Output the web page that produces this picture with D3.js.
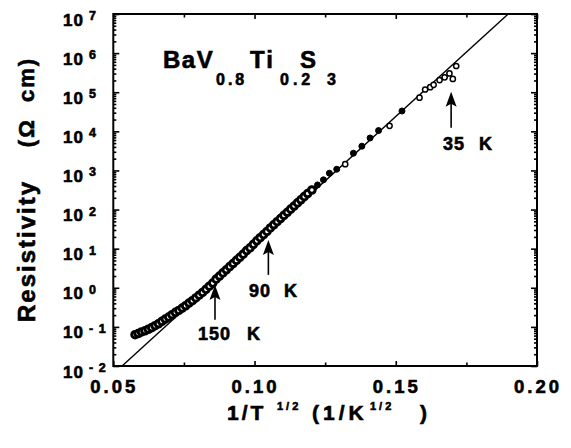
<!DOCTYPE html>
<html>
<head>
<meta charset="utf-8">
<script src="https://cdn.jsdelivr.net/npm/d3@7"></script>
<style>
    body { margin: 0; background: #fff; }
    text { font-family: "Liberation Sans", Arial, Helvetica, sans-serif; font-weight: bold; fill: #000;
           stroke: #000; stroke-width: 0.6px; }
</style>
</head>
<body>
<svg id="chart" width="571" height="448"></svg>
<script>

/* data: x = 1/T^(1/2), log10 of resistivity */
const x_ticks = [0.05, 0.10, 0.15, 0.20]
const x_minor = [0.075, 0.125, 0.175]
const y_decades = [-2, -1, 0, 1, 2, 3, 4, 5, 6, 7]
const y_exp_labels = ['- 2', '- 1', '0', '1', '2', '3', '4', '5', '6', '7']

/* dense band of open circles (high T) */
const dense_x = [0.0577, 0.0588, 0.0600, 0.0612, 0.0624, 0.0636, 0.0648, 0.0660, 0.0672, 0.0684,
    0.0696, 0.0708, 0.0720, 0.0732, 0.0744, 0.0756, 0.0768, 0.0780, 0.0792, 0.0804,
    0.0816, 0.0828, 0.0840, 0.0852, 0.0864, 0.0876, 0.0888, 0.0900, 0.0912, 0.0924,
    0.0936, 0.0948, 0.0960, 0.0972, 0.0984, 0.0996, 0.1008, 0.1020, 0.1032, 0.1044,
    0.1056, 0.1068, 0.1080, 0.1092, 0.1104, 0.1116, 0.1128, 0.1140, 0.1152, 0.1164,
    0.1176, 0.1188, 0.1203]
const dense_log = [-1.20, -1.17, -1.13, -1.10, -1.06, -1.02, -0.97, -0.92, -0.86, -0.80,
    -0.75, -0.69, -0.63, -0.58, -0.52, -0.46, -0.39, -0.33, -0.26, -0.19,
    -0.12, -0.04, 0.04, 0.12, 0.22, 0.30, 0.38, 0.46, 0.54, 0.62,
    0.70, 0.78, 0.86, 0.95, 1.02, 1.11, 1.20, 1.28, 1.36, 1.44,
    1.53, 1.61, 1.69, 1.77, 1.85, 1.93, 2.01, 2.09, 2.17, 2.25,
    2.33, 2.41, 2.50]

/* sparse points, low T */
const solid_x = [0.1223, 0.1244, 0.1265, 0.1291, 0.1350, 0.1380, 0.1409, 0.1439, 0.1522]
const solid_log = [2.63, 2.76, 2.93, 3.03, 3.44, 3.62, 3.83, 4.02, 4.52]
const open_x = [0.1321, 0.1478, 0.1584, 0.1604, 0.1622, 0.1634, 0.1655, 0.1673, 0.1690, 0.1702, 0.1714]
const open_log = [3.16, 4.14, 4.86, 5.07, 5.13, 5.19, 5.31, 5.38, 5.48, 5.34, 5.67]

/* straight fit line */
const fit_x = [0.0531, 0.1898]
const fit_log = [-2, 7]

/* arrows + labels */
const arrow_labels = ['150', '90', '35']
const arrow_x = [0.0860, 0.1049, 0.1696]
const arrow_tip = [0.07, 1.22, 5.01]
const arrow_tail = [-0.82, 0.33, 4.09]


const svg = d3.select('#chart')

/* plot frame */
const m_left = 113.3, m_right = 537, m_top = 14, m_bottom = 366

const x = d3.scaleLinear().domain([0.05, 0.20]).range([m_left, m_right])
const y = d3.scaleLog().domain([1e-2, 1e7]).range([m_bottom, m_top])


/* minor y ticks 2..9 x 10^k */
let y_minor = []
for (let k = -2; k < 7; k++) for (let m = 2; m <= 9; m++) y_minor.push(m * Math.pow(10, k))
const y_major = y_decades.map(d => Math.pow(10, d))

const tick_style = g => {
    g.select('.domain').remove()
    g.selectAll('line').attr('stroke', '#000').attr('stroke-width', 1.6)
    g.selectAll('text').remove()
}

/* 4 sides, ticks inward */
svg.append('g').attr('transform', `translate(0,${m_bottom})`)
    .call(d3.axisBottom(x).tickValues(x_ticks).tickSize(-5)).call(tick_style)
svg.append('g').attr('transform', `translate(0,${m_bottom})`)
    .call(d3.axisBottom(x).tickValues(x_minor).tickSize(-3.5)).call(tick_style)
svg.append('g').attr('transform', `translate(0,${m_top})`)
    .call(d3.axisTop(x).tickValues(x_ticks).tickSize(-5)).call(tick_style)
svg.append('g').attr('transform', `translate(0,${m_top})`)
    .call(d3.axisTop(x).tickValues(x_minor).tickSize(-3.5)).call(tick_style)

svg.append('g').attr('transform', `translate(${m_left},0)`)
    .call(d3.axisLeft(y).tickValues(y_major).tickSize(-6)).call(tick_style)
svg.append('g').attr('transform', `translate(${m_left},0)`)
    .call(d3.axisLeft(y).tickValues(y_minor).tickSize(-3)).call(tick_style)
svg.append('g').attr('transform', `translate(${m_right},0)`)
    .call(d3.axisRight(y).tickValues(y_major).tickSize(-6)).call(tick_style)
svg.append('g').attr('transform', `translate(${m_right},0)`)
    .call(d3.axisRight(y).tickValues(y_minor).tickSize(-3)).call(tick_style)

svg.append('rect')
    .attr('x', m_left).attr('y', m_top)
    .attr('width', m_right - m_left).attr('height', m_bottom - m_top)
    .attr('fill', 'none').attr('stroke', '#000').attr('stroke-width', 2)


/* x tick labels */
svg.append('g').selectAll('text')
    .data(x_ticks)
    .join('text')
    .attr('x', d => x(d) + 1)
    .attr('y', 393)
    .attr('text-anchor', 'middle')
    .style('font-size', '18.5px')
    .style('letter-spacing', '3px')
    .text(d => d3.format('.2f')(d))

/* y tick labels 10^n */
const ylab = svg.append('g').selectAll('text')
    .data(y_decades)
    .join('text')
    .attr('x', 63)
    .attr('y', d => y(Math.pow(10, d)) + 11.5)
    .style('font-size', '17px')
    .style('letter-spacing', '1px')
ylab.append('tspan').text('10')
ylab.append('tspan')
    .attr('x', 89)
    .attr('dy', -5.5)
    .style('font-size', '12.5px')
    .style('white-space', 'pre')
    .text((d, i) => y_exp_labels[i])


/* fit line */
svg.append('line')
    .attr('x1', x(fit_x[0])).attr('y1', y(Math.pow(10, fit_log[0])))
    .attr('x2', x(fit_x[1])).attr('y2', y(Math.pow(10, fit_log[1])))
    .attr('stroke', '#000').attr('stroke-width', 1.4)


/* data points */
svg.append('g').selectAll('circle')
    .data(dense_x.map((d, i) => [d, dense_log[i]]))
    .join('circle')
    .attr('cx', d => x(d[0]))
    .attr('cy', d => y(Math.pow(10, d[1])))
    .attr('r', 3.3)
    .attr('fill', '#fff').attr('stroke', '#000').attr('stroke-width', 3)

svg.append('g').selectAll('circle')
    .data(solid_x.map((d, i) => [d, solid_log[i]]))
    .join('circle')
    .attr('cx', d => x(d[0]))
    .attr('cy', d => y(Math.pow(10, d[1])))
    .attr('r', 3)
    .attr('fill', '#000').attr('stroke', '#000').attr('stroke-width', 1)

svg.append('g').selectAll('circle')
    .data(open_x.map((d, i) => [d, open_log[i]]))
    .join('circle')
    .attr('cx', d => x(d[0]))
    .attr('cy', d => y(Math.pow(10, d[1])))
    .attr('r', 2.6)
    .attr('fill', '#fff').attr('stroke', '#000').attr('stroke-width', 1.5)


/* arrows */
arrow_x.forEach((ax, i) => {
    const px = x(ax), ty = y(Math.pow(10, arrow_tip[i])), by = y(Math.pow(10, arrow_tail[i]))
    svg.append('line')
        .attr('x1', px).attr('y1', by).attr('x2', px).attr('y2', ty + 10)
        .attr('stroke', '#000').attr('stroke-width', 1.6)
    svg.append('path')
        .attr('d', `M${px},${ty} L${px + 5.5},${ty + 15} L${px},${ty + 12} L${px - 5.5},${ty + 15} Z`)
        .attr('fill', '#000')
})

/* arrow labels: number then K */
const label_pos = [[198, 340, 247], [249, 297, 284], [443, 150, 479]]
arrow_labels.forEach((t, i) => {
    const g = svg.append('text').attr('y', label_pos[i][1]).style('font-size', '18px')
    g.append('tspan').attr('x', label_pos[i][0]).style('letter-spacing', '1px').text(t)
    g.append('tspan').attr('x', label_pos[i][2]).text('K')
})


/* compound name */
const title = svg.append('text').attr('y', 68).style('font-size', '24px')
title.append('tspan').attr('x', 163).style('letter-spacing', '1.5px').text('BaV')
title.append('tspan').attr('x', 216).attr('y', 85).style('font-size', '16px').style('letter-spacing', '3px').text('0.8')
title.append('tspan').attr('x', 250).attr('y', 68).style('letter-spacing', '2px').text('Ti')
title.append('tspan').attr('x', 280).attr('y', 85).style('font-size', '16px').style('letter-spacing', '4px').text('0.2')
title.append('tspan').attr('x', 300).attr('y', 68).text('S')
title.append('tspan').attr('x', 327).attr('y', 85).style('font-size', '16px').text('3')


/* x axis title */
const xt = svg.append('text').attr('y', 420).style('font-size', '21px')
xt.append('tspan').attr('x', 227).style('letter-spacing', '3px').text('1/T')
xt.append('tspan').attr('x', 277).attr('y', 410).style('font-size', '11px').style('letter-spacing', '3px').text('1/2')
xt.append('tspan').attr('x', 312).attr('y', 420).style('letter-spacing', '4px').text('(1/K')
xt.append('tspan').attr('x', 370).attr('y', 410).style('font-size', '11px').style('letter-spacing', '3px').text('1/2')
xt.append('tspan').attr('x', 420).attr('y', 420).text(')')


/* y axis title */
svg.append('text')
    .attr('transform', 'translate(35,251) rotate(-90)')
    .attr('text-anchor', 'middle')
    .style('font-size', '24px')
    .style('letter-spacing', '2px')
    .text('Resistivity')

svg.append('text')
    .attr('transform', 'translate(34,102) rotate(-90)')
    .attr('text-anchor', 'middle')
    .style('font-size', '22px')
    .style('letter-spacing', '2px')
    .style('white-space', 'pre')
    .text('(\u03A9  cm)')

</script>
</body>
</html>
